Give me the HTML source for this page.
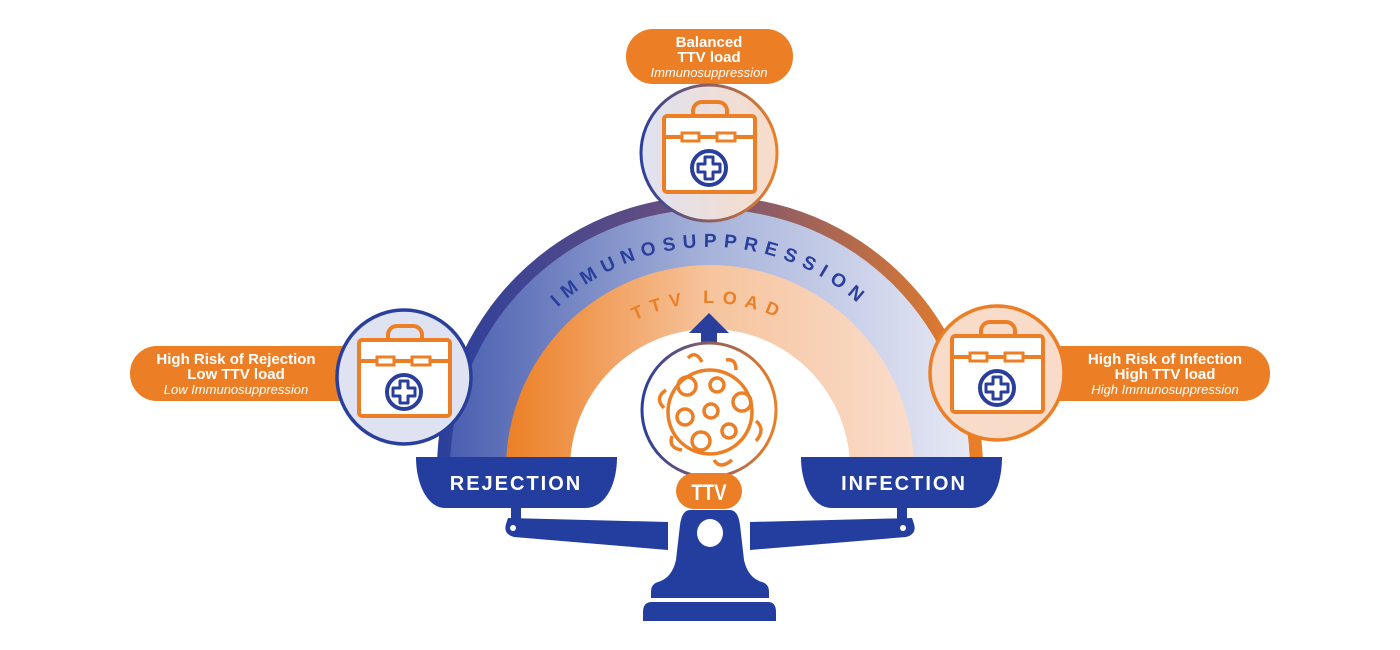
<!DOCTYPE html>
<html><head><meta charset="utf-8"><style>
html,body{margin:0;padding:0;background:#fff;width:1400px;height:650px;overflow:hidden}
svg{display:block}
text{font-family:"Liberation Sans",Arial,sans-serif}
</style></head><body>
<svg width="1400" height="650" viewBox="0 0 1400 650" xmlns="http://www.w3.org/2000/svg">
<defs>
<linearGradient id="gBorder" x1="437" y1="0" x2="983" y2="0" gradientUnits="userSpaceOnUse">
<stop offset="0" stop-color="#2a3f9c"/><stop offset="0.45" stop-color="#6a4f7e"/><stop offset="1" stop-color="#ec7f25"/></linearGradient>
<linearGradient id="gBlue" x1="450" y1="0" x2="970" y2="0" gradientUnits="userSpaceOnUse">
<stop offset="0" stop-color="#4a5fb0"/><stop offset="0.5" stop-color="#a7b3da"/><stop offset="1" stop-color="#e6e8f4"/></linearGradient>
<linearGradient id="gOr" x1="506" y1="0" x2="912" y2="0" gradientUnits="userSpaceOnUse">
<stop offset="0" stop-color="#ec7f25"/><stop offset="0.5" stop-color="#f6c49d"/><stop offset="1" stop-color="#fadccb"/></linearGradient>
<linearGradient id="gTop" x1="0" y1="0" x2="1" y2="0">
<stop offset="0" stop-color="#dfe2f1"/><stop offset="1" stop-color="#f8dcc9"/></linearGradient>
<linearGradient id="gTopStroke" x1="0" y1="0" x2="1" y2="0">
<stop offset="0" stop-color="#2a3f9c"/><stop offset="1" stop-color="#ec7f25"/></linearGradient>
<path id="pImm" d="M 488 469 A 222 222 0 0 1 932 469"/>
<path id="pTtv" d="M 543 469 A 166 166 0 0 1 875 469"/>
<g id="kit">
<rect x="-16" y="-51" width="34" height="20" rx="9" fill="none" stroke="#ec7f25" stroke-width="4"/>
<rect x="-45" y="-37" width="91" height="76" rx="3" fill="#fff" stroke="#ec7f25" stroke-width="4"/>
<line x1="-45" y1="-16" x2="46" y2="-16" stroke="#ec7f25" stroke-width="4"/>
<rect x="-27" y="-20" width="17" height="8" fill="#fff" stroke="#ec7f25" stroke-width="3"/>
<rect x="8" y="-20" width="18" height="8" fill="#fff" stroke="#ec7f25" stroke-width="3"/>
<circle cx="0" cy="15" r="17" fill="#fff" stroke="#2a3f9c" stroke-width="4"/>
<path d="M-4 4 h8 v7 h7 v8 h-7 v7 h-8 v-7 h-7 v-8 h7 z" fill="#fff" stroke="#2a3f9c" stroke-width="3" stroke-linejoin="round"/>
</g>
</defs>

<path d="M437 469 A273 273 0 0 1 983 469 Z" fill="url(#gBorder)"/>
<path d="M450 469 A260 260 0 0 1 970 469 Z" fill="url(#gBlue)"/>
<path d="M506 469 A204 204 0 0 1 914 469 Z" fill="url(#gOr)"/>
<path d="M570 469 A140 140 0 0 1 850 469 Z" fill="#fff"/>

<text font-size="19" font-weight="bold" fill="#2a3f9c" letter-spacing="7"><textPath href="#pImm" startOffset="50%" text-anchor="middle">IMMUNOSUPPRESSION</textPath></text>
<text font-size="18" font-weight="bold" fill="#ec7f25" letter-spacing="8"><textPath href="#pTtv" startOffset="50%" text-anchor="middle">TTV LOAD</textPath></text>

<path d="M709 313 L729 333 L717 333 L717 348 L701 348 L701 333 L689 333 Z" fill="#2a3f9c"/>

<path d="M416 457 H617 C617 485 605 508 585 508 H445 C428 508 416 485 416 457 Z" fill="#233e9e"/>
<path d="M801 457 H1002 C1002 485 992 508 972 508 H832 C813 508 801 485 801 457 Z" fill="#233e9e"/>
<rect x="511" y="506" width="10" height="14" fill="#233e9e"/>
<rect x="897" y="506" width="10" height="14" fill="#233e9e"/>
<path d="M508 518 L668 522 L668 550 L514 537 Q503 534 506 524 Z" fill="#233e9e"/>
<path d="M912 518 L750 522 L750 550 L906 537 Q917 534 914 524 Z" fill="#233e9e"/>
<circle cx="513" cy="528" r="3" fill="#fff"/>
<circle cx="903" cy="528" r="3" fill="#fff"/>
<path d="M690 510 H730 Q738 510 740 525 L744 560 Q748 578 762 582 Q769 584 769 592 V598 H651 V592 Q651 584 658 582 Q672 578 676 560 L680 525 Q682 510 690 510 Z" fill="#233e9e"/>
<ellipse cx="710" cy="533" rx="13" ry="14" fill="#fff"/>
<path d="M652 602 H768 Q776 602 776 612 V621 H643 V612 Q643 602 652 602 Z" fill="#233e9e"/>

<text x="516" y="490" font-size="20" font-weight="bold" fill="#fff" text-anchor="middle" letter-spacing="2">REJECTION</text>
<text x="904" y="490" font-size="20" font-weight="bold" fill="#fff" text-anchor="middle" letter-spacing="2">INFECTION</text>

<circle cx="709" cy="410" r="67" fill="#fff" stroke="url(#gTopStroke)" stroke-width="3"/>
<g fill="none" stroke="#ec7f25" stroke-width="3.5">
<circle cx="710" cy="412" r="42"/>
<circle cx="687" cy="386" r="9"/><circle cx="717" cy="385" r="7"/><circle cx="742" cy="402" r="9"/>
<circle cx="685" cy="417" r="8"/><circle cx="711" cy="411" r="7"/><circle cx="729" cy="431" r="7"/>
<circle cx="701" cy="441" r="9"/>
<path d="M688 358 q8 -8 14 4"/><path d="M726 360 q10 -2 10 10"/><path d="M666 390 q-12 8 -2 18"/>
<path d="M756 421 q10 8 0 20"/><path d="M672 436 q-4 12 10 14"/><path d="M714 460 q6 10 18 0"/>
</g>
<rect x="676" y="473" width="66" height="36" rx="18" fill="#ec7f25"/>
<text x="709" y="500" font-size="22" font-weight="bold" fill="#fff" text-anchor="middle" transform="translate(709 0) scale(0.85 1) translate(-709 0)">TTV</text>

<rect x="626" y="29" width="167" height="55" rx="27" fill="#ec7f25"/>
<text x="709" y="47" font-size="15" font-weight="bold" fill="#fff" text-anchor="middle">Balanced</text>
<text x="709" y="62" font-size="15" font-weight="bold" fill="#fff" text-anchor="middle">TTV load</text>
<text x="709" y="77" font-size="13" font-style="italic" fill="#fff" text-anchor="middle">Immunosuppression</text>
<circle cx="709" cy="153" r="68" fill="url(#gTop)" stroke="url(#gTopStroke)" stroke-width="3"/>
<use href="#kit" x="709" y="153"/>

<rect x="130" y="346" width="250" height="55" rx="27" fill="#ec7f25"/>
<text x="236" y="364" font-size="15" font-weight="bold" fill="#fff" text-anchor="middle">High Risk of Rejection</text>
<text x="236" y="379" font-size="15" font-weight="bold" fill="#fff" text-anchor="middle">Low TTV load</text>
<text x="236" y="394" font-size="13" font-style="italic" fill="#fff" text-anchor="middle">Low Immunosuppression</text>
<circle cx="404" cy="377" r="67" fill="#dfe2f1" stroke="#2a3f9c" stroke-width="3.5"/>
<use href="#kit" x="404" y="377"/>

<rect x="1030" y="346" width="240" height="55" rx="27" fill="#ec7f25"/>
<text x="1165" y="364" font-size="15" font-weight="bold" fill="#fff" text-anchor="middle">High Risk of Infection</text>
<text x="1165" y="379" font-size="15" font-weight="bold" fill="#fff" text-anchor="middle">High TTV load</text>
<text x="1165" y="394" font-size="13" font-style="italic" fill="#fff" text-anchor="middle">High Immunosuppression</text>
<circle cx="997" cy="373" r="67" fill="#f8dcc9" stroke="#ec7f25" stroke-width="3.5"/>
<use href="#kit" x="997" y="373"/>
</svg>
</body></html>
